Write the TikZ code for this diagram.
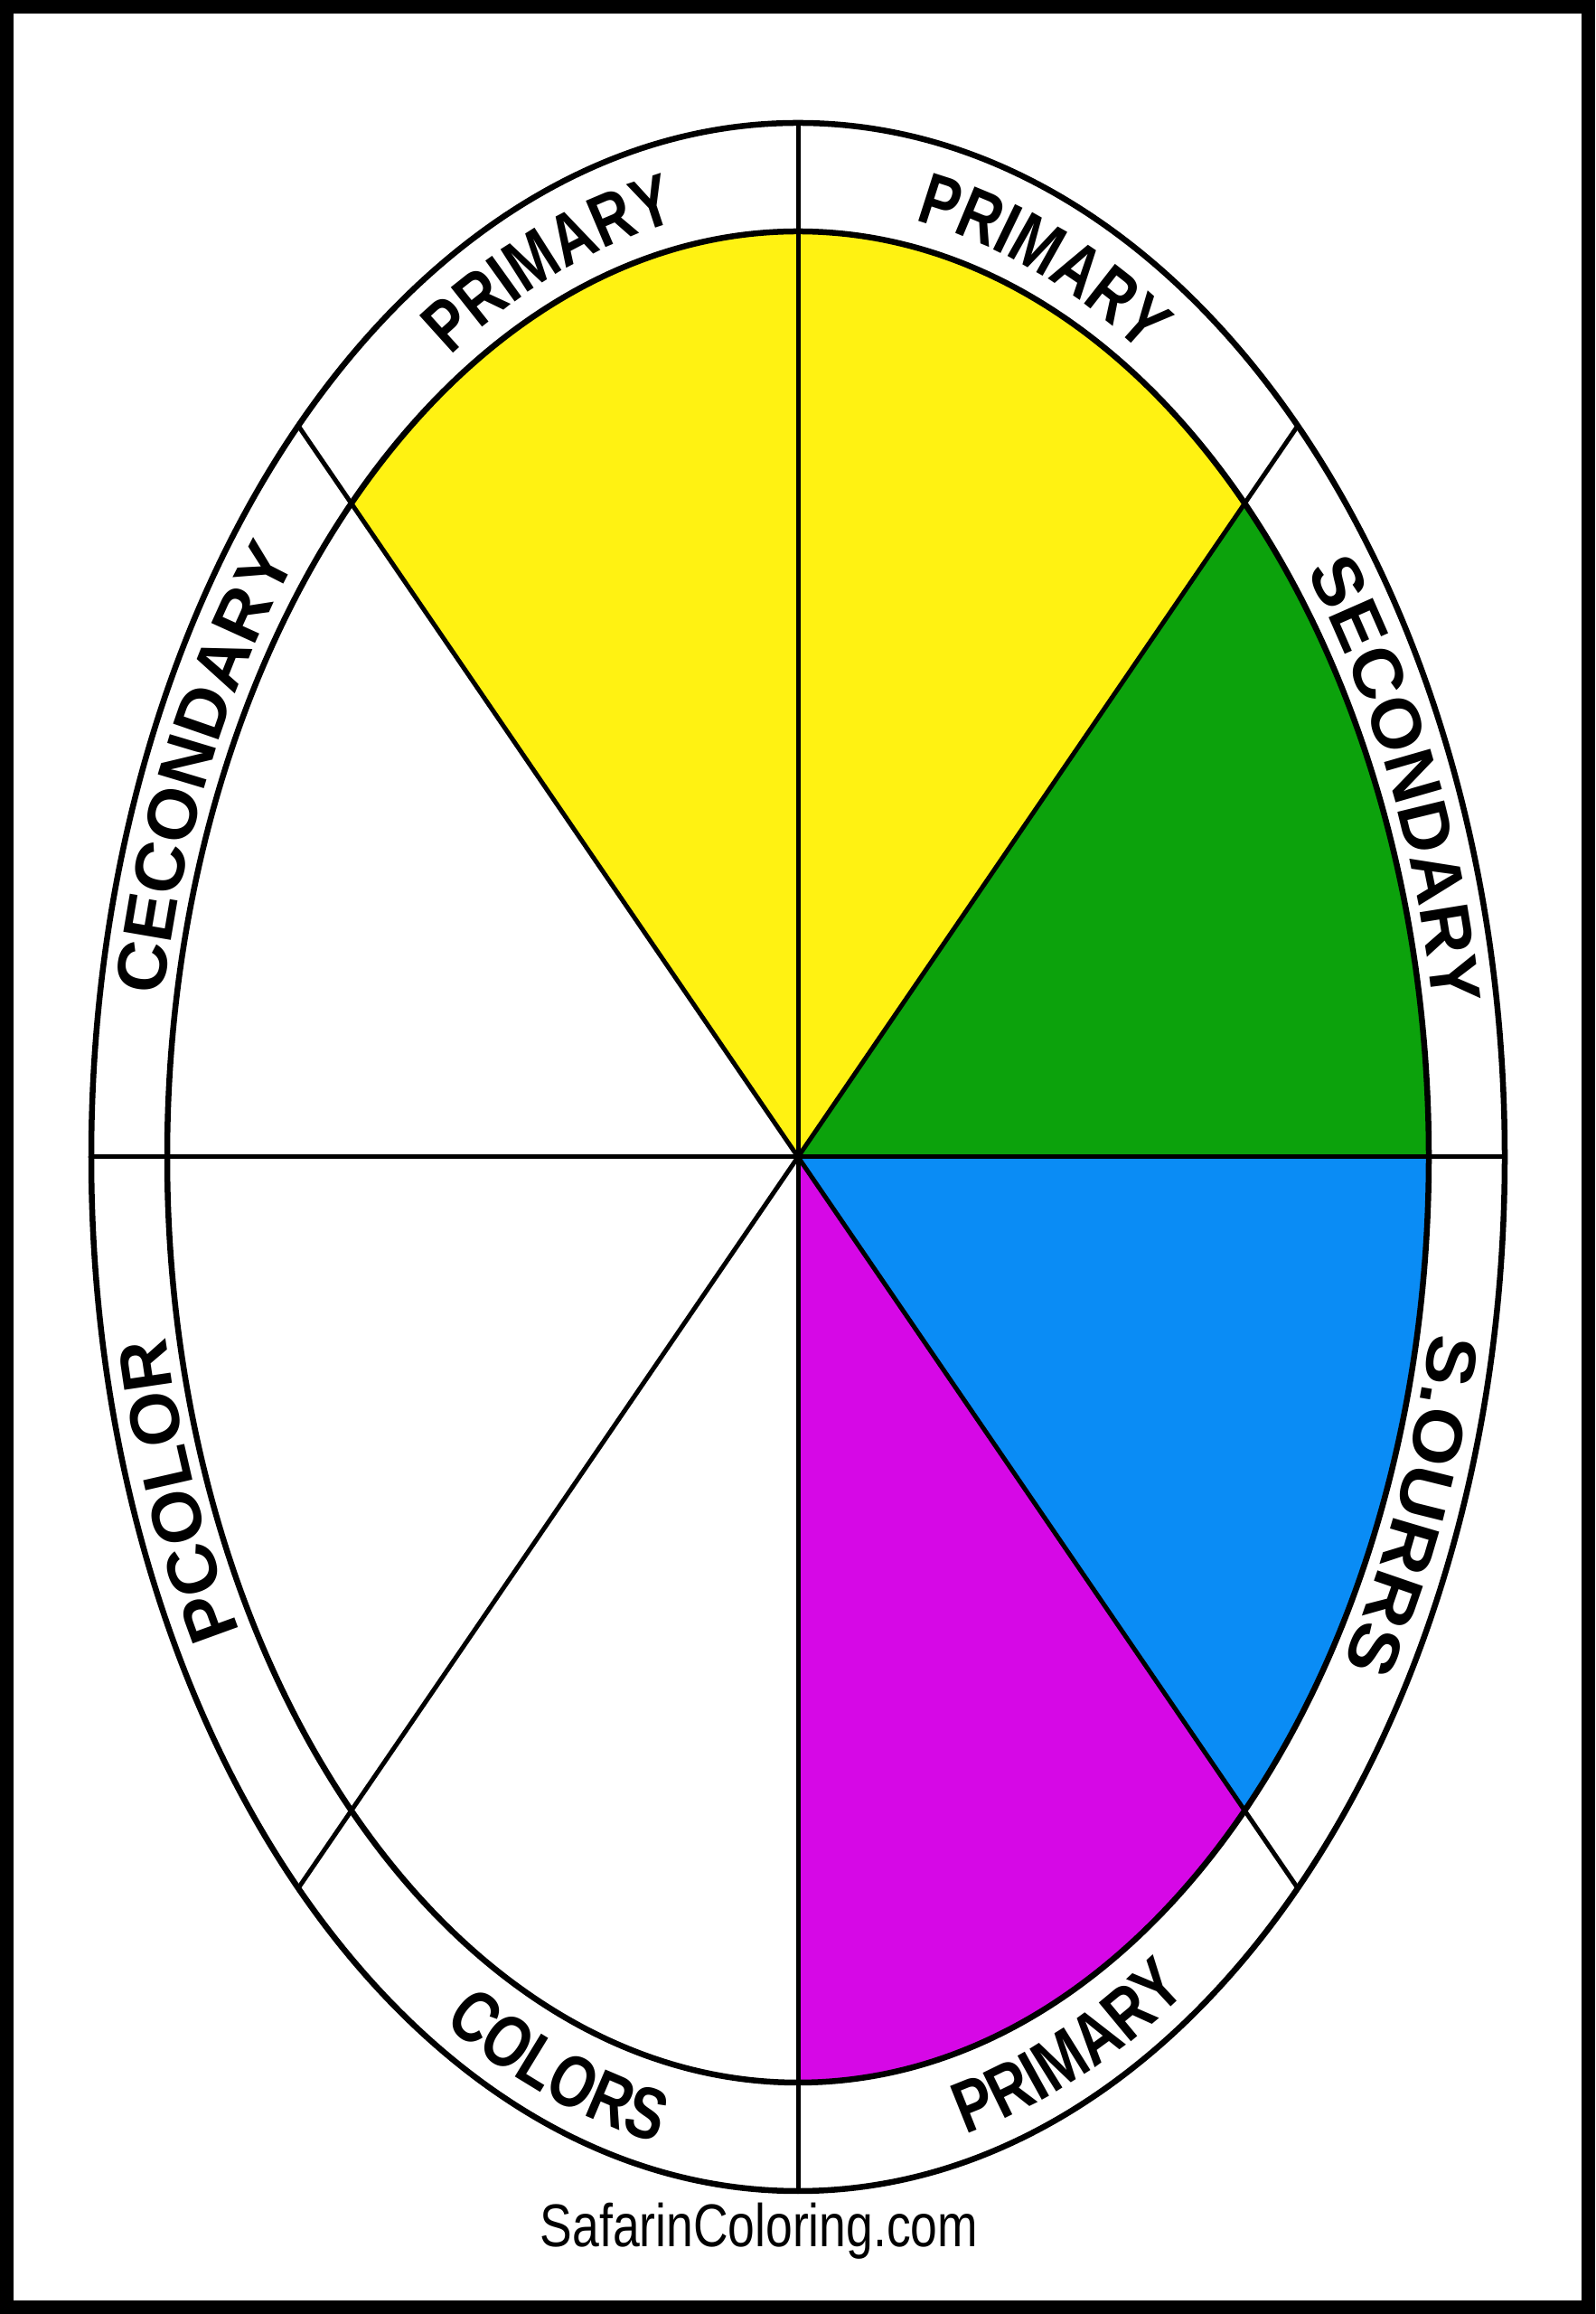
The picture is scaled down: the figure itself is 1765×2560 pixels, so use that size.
\documentclass[tikz,border=0pt]{standalone}
\usepackage{fontspec}
\setmainfont{Liberation Sans}
\newfontfamily\labN{Liberation Sans}[FakeStretch=0.79]
\newfontfamily\labW{Liberation Sans}[FakeStretch=1.02]
\newfontfamily\labX{Liberation Sans}[FakeStretch=1.08]
\newfontfamily\wmfont{Liberation Sans}[FakeStretch=0.80]
\usetikzlibrary{decorations.text}
\newcommand\fN{\labN\bfseries\fontsize{23pt}{27pt}\selectfont}
\newcommand\fW{\labW\bfseries\fontsize{22pt}{26pt}\selectfont}
\newcommand\fX{\labX\bfseries\fontsize{22pt}{26pt}\selectfont}
\definecolor{cyel}{RGB}{255,242,18}
\definecolor{cgrn}{RGB}{12,162,12}
\definecolor{cblu}{RGB}{10,140,245}
\definecolor{cmag}{RGB}{214,8,230}
\tikzset{
  ringline/.style={line width=0.065cm, black},
  spoke/.style={line width=0.05cm, black},
  frame/.style={line width=0.15cm, black},
  lbl/.style={decorate, decoration={text along path, text align=center, text={#1}}}
}
\begin{document}
\begin{tikzpicture}[x=0.01cm,y=0.01cm]
\useasboundingbox (0,0) rectangle (1765,2560);
\fill[white] (0,0) rectangle (1765,2560);
\coordinate (C) at (883,1280);
% outer ellipse points for spokes
\foreach \t in {0,45,90,135,180,225,270,315}{
  \path (C) ++(\t:782 and 1144) coordinate (o\t);
}
% coloured sectors
\fill[cyel] (C) -- ++(45:698 and 1024) arc[start angle=45,end angle=135,x radius=698,y radius=1024] -- cycle;
\fill[cgrn] (C) -- ++(0:698 and 1024) arc[start angle=0,end angle=45,x radius=698,y radius=1024] -- cycle;
\fill[cblu] (C) -- ++(-45:698 and 1024) arc[start angle=-45,end angle=0,x radius=698,y radius=1024] -- cycle;
\fill[cmag] (C) -- ++(-90:698 and 1024) arc[start angle=-90,end angle=-45,x radius=698,y radius=1024] -- cycle;
% spokes
\draw[spoke] (o0) -- (o180);
\draw[spoke] (o45) -- (o225);
\draw[spoke] (o90) -- (o270);
\draw[spoke] (o135) -- (o315);
% ellipses
\draw[ringline] (C) ellipse[x radius=782, y radius=1144];
\draw[ringline] (C) ellipse[x radius=698, y radius=1024];
% label paths: clockwise, tops outward
\path (C) ++(132.8:710 and 1054) coordinate (s1);
\path (C) ++(91.5:710 and 1054) coordinate (s2);
\path (C) ++(46:712 and 1056) coordinate (s3);
\path (C) ++(0:712 and 1056) coordinate (s4);
\path (C) ++(223:712 and 1056) coordinate (s7);
\path (C) ++(177.2:712 and 1056) coordinate (s8);
% counterclockwise, tops inward
\path (C) ++(-89:770 and 1114) coordinate (s5);
\path (C) ++(-132.2:770 and 1114) coordinate (s6);
\path[lbl={|\fN|PRIMARY}] (s1) arc[start angle=132.8,end angle=88.8,x radius=710,y radius=1054];
\path[lbl={|\fN|PRIMARY}] (s2) arc[start angle=91.5,end angle=47.5,x radius=710,y radius=1054];
\path[lbl={|\fW|SECONDARY}] (s3) arc[start angle=46,end angle=2,x radius=712,y radius=1056];
\path[lbl={|\fX|S.OURRS}] (s4) arc[start angle=0,end angle=-44,x radius=712,y radius=1056];
\path[lbl={|\fN|PRIMARY}] (s5) arc[start angle=-89,end angle=-45,x radius=770,y radius=1114];
\path[lbl={|\fN|COLORS}] (s6) arc[start angle=-132.2,end angle=-88.2,x radius=770,y radius=1114];
\path[lbl={|\fW|PCOLOR}] (s7) arc[start angle=223,end angle=179,x radius=712,y radius=1056];
\path[lbl={|\fW|CECONDARY}] (s8) arc[start angle=177.2,end angle=133.2,x radius=712,y radius=1056];
% watermark
\node[anchor=base, inner sep=0pt, font=\wmfont\fontsize{19pt}{23pt}\selectfont] (wm) at (840,74) {SafarinColoring.com};
% frame
\draw[frame] (7.5,7.5) rectangle (1757.5,2552.5);
\end{tikzpicture}
\end{document}
